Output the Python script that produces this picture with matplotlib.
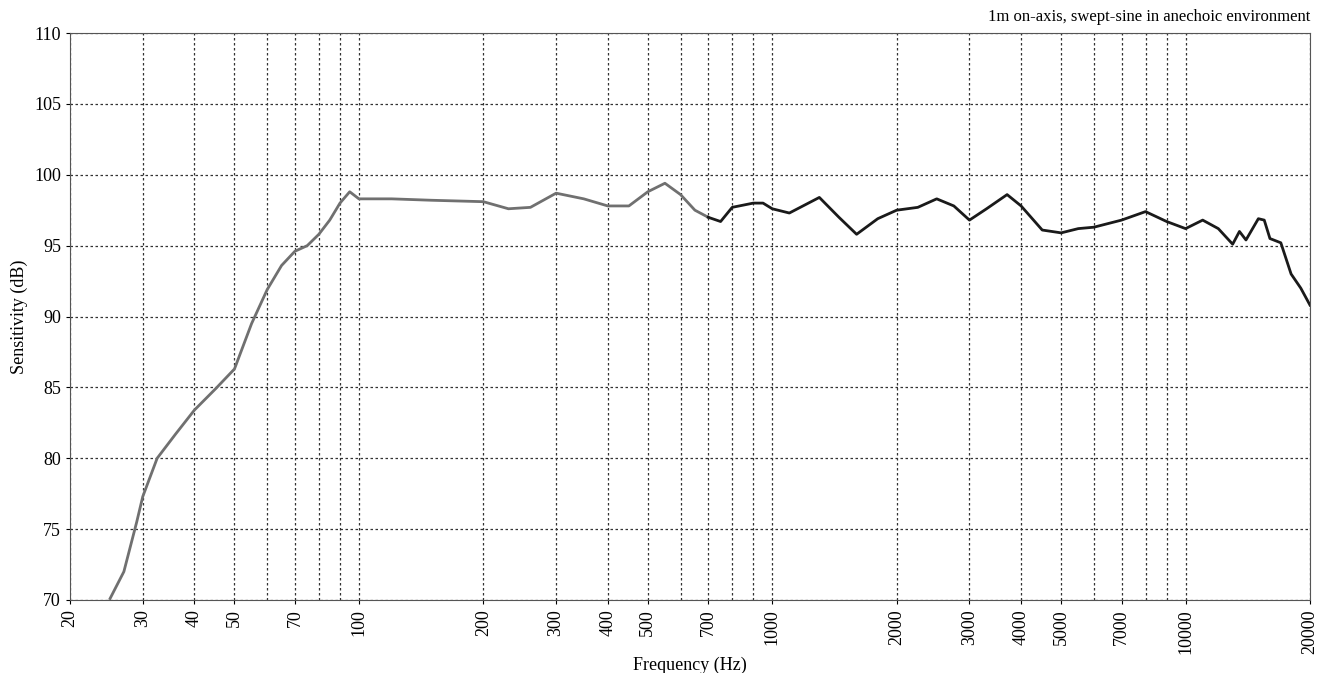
import matplotlib
matplotlib.use("Agg")
import matplotlib.pyplot as plt
import numpy as np
from matplotlib.ticker import FixedLocator, NullFormatter, NullLocator

freq = [25, 27, 29, 30, 32.5, 36, 40, 45, 50, 55, 60, 65, 70, 75, 80, 85, 90, 95, 100, 120, 150, 200, 230, 260, 300, 350, 400, 450, 500, 550, 600, 650, 700, 750, 800, 900, 950, 1000, 1100, 1300, 1450, 1600, 1800, 2000, 2250, 2500, 2750, 3000, 3300, 3700, 4000, 4500, 5000, 5500, 6000, 7000, 8000, 9000, 10000, 11000, 12000, 13000, 13500, 14000, 15000, 15500, 16000, 17000, 18000, 19000, 20000]
spl = [70.1, 72.0, 75.5, 77.3, 80.0, 81.7, 83.4, 84.9, 86.3, 89.5, 91.9, 93.6, 94.6, 95.0, 95.8, 96.8, 98.0, 98.8, 98.3, 98.3, 98.2, 98.1, 97.6, 97.7, 98.7, 98.3, 97.8, 97.8, 98.8, 99.4, 98.6, 97.5, 97.0, 96.7, 97.7, 98.0, 98.0, 97.6, 97.3, 98.4, 97.0, 95.8, 96.9, 97.5, 97.7, 98.3, 97.8, 96.8, 97.6, 98.6, 97.8, 96.1, 95.9, 96.2, 96.3, 96.8, 97.4, 96.7, 96.2, 96.8, 96.2, 95.1, 96.0, 95.4, 96.9, 96.8, 95.5, 95.2, 93.0, 92.0, 90.8]

xtick_labels = [20, 30, 40, 50, 70, 100, 200, 300, 400, 500, 700, 1000, 2000, 3000, 4000, 5000, 7000, 10000, 20000]
grid_x = [20,30,40,50,60,70,80,90,100,200,300,400,500,600,700,800,900,1000,2000,3000,4000,5000,6000,7000,8000,9000,10000,20000]
yticks = [70, 75, 80, 85, 90, 95, 100, 105, 110]

plt.rcParams['font.family'] = ['Liberation Serif', 'DejaVu Serif']
fig = plt.figure(figsize=(13.26, 6.73), dpi=100)
ax = fig.add_axes([70/1326, 1-600/673, 1240/1326, 567/673])
ax.set_xscale('log')
ax.set_xlim(20, 20000)
ax.set_ylim(70, 110)

f = np.array(freq); s = np.array(spl)
split = np.searchsorted(f, 700)
ax.plot(f[:split+1], s[:split+1], color='#707070', lw=2)
ax.plot(f[split:], s[split:], color='#1a1a1a', lw=2)

for gx in grid_x:
    ax.axvline(gx, color='#333333', lw=0.9, ls=(0, (2, 2)), zorder=0)
for gy in yticks:
    ax.axhline(gy, color='#333333', lw=0.9, ls=(0, (2, 2)), zorder=0)

ax.xaxis.set_major_locator(FixedLocator(xtick_labels))
ax.xaxis.set_minor_locator(NullLocator())
ax.xaxis.set_minor_formatter(NullFormatter())
ax.set_xticklabels([str(v) for v in xtick_labels], rotation=90, fontsize=13)
ax.set_yticks(yticks)
ax.set_yticklabels([str(v) for v in yticks], fontsize=13)
ax.tick_params(length=3)
ax.set_xlabel('Frequency (Hz)', fontsize=13, labelpad=2)
ax.set_ylabel('Sensitivity (dB)', fontsize=13)
fig.text(1310/1326, 1-17/673, '1m on-axis, swept-sine in anechoic environment', ha='right', va='center', fontsize=12)
for sp in ax.spines.values():
    sp.set_color('#555555')
fig.savefig('out.png', dpi=100)
